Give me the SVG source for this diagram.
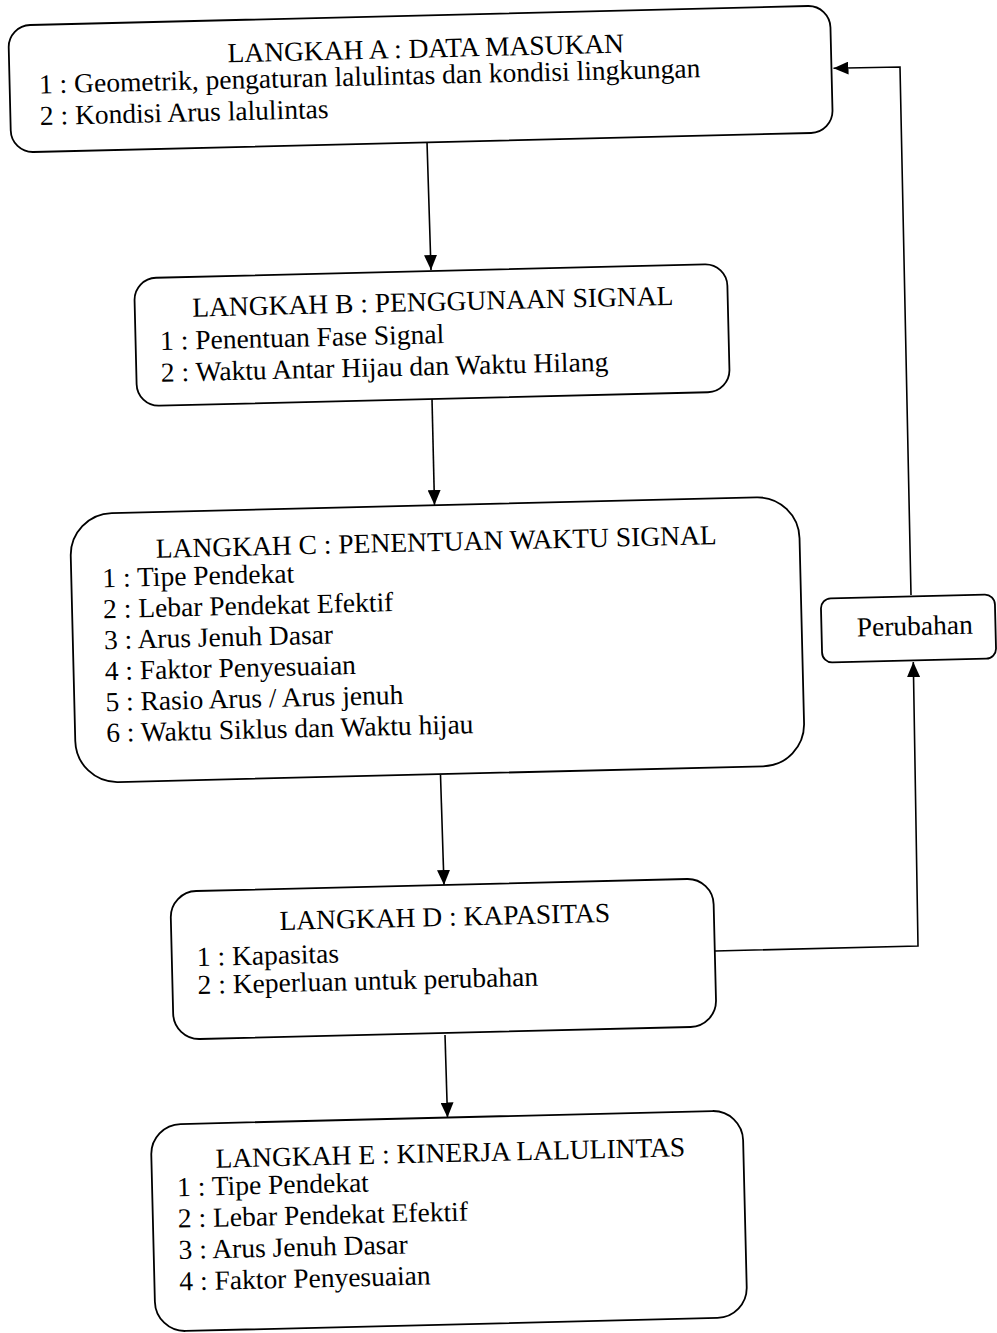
<svg xmlns="http://www.w3.org/2000/svg" width="997" height="1333" viewBox="0 0 997 1333">
<defs>
<marker id="arr" viewBox="0 0 15 13" refX="15" refY="6.5" markerWidth="15" markerHeight="13" markerUnits="userSpaceOnUse" orient="auto"><path d="M0,0 L15,6.5 L0,13 Z" fill="#000"/></marker>
<style>
.box{fill:#fff;stroke:#000;stroke-width:1.8}
.t{font-family:"Liberation Serif","Times New Roman",serif;font-size:27.5px;fill:#000}
.h{text-anchor:middle}
.c{fill:none;stroke:#000;stroke-width:1.6}
</style>
</defs>
<rect width="997" height="1333" fill="#fff"/>

<g id="connectors">
<line class="c" x1="427" y1="142" x2="431" y2="270" marker-end="url(#arr)"/>
<line class="c" x1="432" y1="399" x2="434.5" y2="505" marker-end="url(#arr)"/>
<line class="c" x1="440.5" y1="775" x2="444" y2="885" marker-end="url(#arr)"/>
<line class="c" x1="445" y1="1035" x2="447.5" y2="1117.5" marker-end="url(#arr)"/>
<polyline class="c" points="715,951 918,946 913.3,662" marker-end="url(#arr)"/>
<polyline class="c" points="911,595 900,67 833.5,68.3" marker-end="url(#arr)"/>
</g>

<g id="langkah-a" transform="rotate(-1.4 420.6 79)">
<rect class="box" x="9.6" y="15.5" width="822" height="127" rx="22"/>
<text class="t h" x="426.5" y="57.6">LANGKAH A : DATA MASUKAN</text>
<text class="t" x="39" y="84.1">1 : Geometrik, pengaturan lalulintas dan kondisi lingkungan</text>
<text class="t" x="39" y="115.7">2 : Kondisi Arus lalulintas</text>
</g>

<g id="langkah-b" transform="rotate(-1.4 432 335)">
<rect class="box" x="135.5" y="271" width="593" height="128" rx="22"/>
<text class="t h" x="433.6" y="310.8">LANGKAH B : PENGGUNAAN SIGNAL</text>
<text class="t" x="160" y="343.4">1 : Penentuan Fase Signal</text>
<text class="t" x="160" y="375.1">2 : Waktu Antar Hijau dan Waktu Hilang</text>
</g>

<g id="langkah-c" transform="rotate(-1.4 437.4 639.7)">
<rect class="box" x="72.9" y="505.2" width="729" height="269" rx="42"/>
<text class="t h" x="438.6" y="551">LANGKAH C : PENENTUAN WAKTU SIGNAL</text>
<text class="t" x="104" y="579">1 : Tipe Pendekat</text>
<text class="t" x="104" y="610">2 : Lebar Pendekat Efektif</text>
<text class="t" x="104" y="641">3 : Arus Jenuh Dasar</text>
<text class="t" x="104" y="672">4 : Faktor Penyesuaian</text>
<text class="t" x="104" y="703">5 : Rasio Arus / Arus jenuh</text>
<text class="t" x="104" y="734">6 : Waktu Siklus dan Waktu hijau</text>
</g>

<g id="langkah-d" transform="rotate(-1.4 443.4 959)">
<rect class="box" x="171.9" y="885" width="543" height="148" rx="26"/>
<text class="t h" x="445.8" y="926">LANGKAH D : KAPASITAS</text>
<text class="t" x="197" y="960">1 : Kapasitas</text>
<text class="t" x="197" y="988">2 : Keperluan untuk perubahan</text>
</g>

<g id="langkah-e" transform="rotate(-1.4 449 1221)">
<rect class="box" x="153" y="1117.5" width="592" height="207" rx="30"/>
<text class="t h" x="452" y="1162">LANGKAH E : KINERJA LALULINTAS</text>
<text class="t" x="178" y="1189.5">1 : Tipe Pendekat</text>
<text class="t" x="178" y="1221">2 : Lebar Pendekat Efektif</text>
<text class="t" x="178" y="1252.5">3 : Arus Jenuh Dasar</text>
<text class="t" x="178" y="1284">4 : Faktor Penyesuaian</text>
</g>

<g id="perubahan" transform="rotate(-1.4 908.5 628.5)">
<rect class="box" x="821.5" y="596.5" width="174" height="64" rx="10"/>
<text class="t h" x="914.8" y="635.2">Perubahan</text>
</g>
</svg>
